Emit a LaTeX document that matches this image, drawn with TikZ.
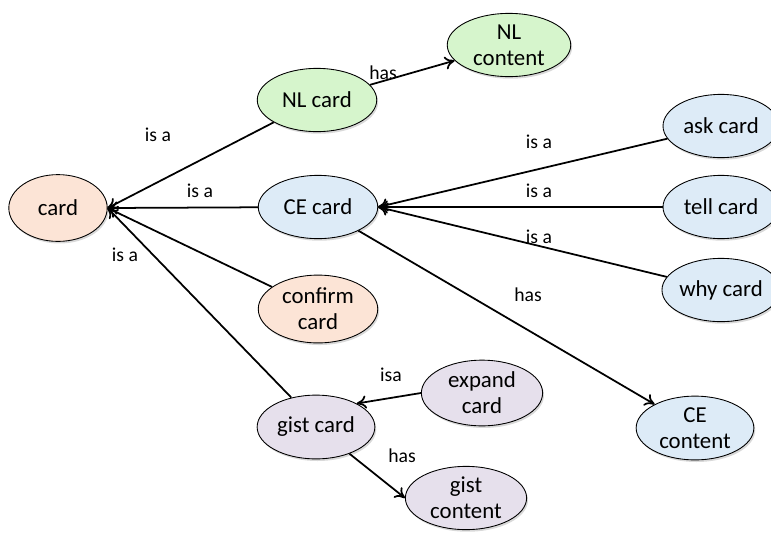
\documentclass[tikz,border=0pt]{standalone}
\usepackage{fontspec}
\setmainfont{Carlito}
\usetikzlibrary{shapes.geometric,arrows.meta,shadows}
\definecolor{peach}{HTML}{FCE4D6}
\definecolor{mint}{HTML}{D6F5CC}
\definecolor{sky}{HTML}{DDEBF7}
\definecolor{lilac}{HTML}{E6E0EC}
\tikzset{
  concept/.style={ellipse, draw, line width=0.5pt, inner sep=0pt, align=center,
    minimum width=68pt, minimum height=36pt,
    font=\fontsize{13}{14.7}\selectfont,
    drop shadow={opacity=0.3, shadow xshift=0.8pt, shadow yshift=-1.2pt}},
  rel/.style={font=\fontsize{11.2}{13}\selectfont, inner sep=1pt},
  link/.style={-{To[length=5.5pt,width=7.5pt]}, line width=1pt}
}
\begin{document}
\begin{tikzpicture}[x=0.02cm, y=-0.02cm]
\useasboundingbox (0,0) rectangle (771,538);
% concepts
\node[concept, fill=peach, minimum width=56pt, minimum height=38pt] (card) at (58,208) {card};
\node[concept, fill=mint] (nl) at (317,100) {NL card};
\node[concept, fill=mint, minimum width=70.3pt] (nlc) at (509,45) {NL\\content};
\node[concept, fill=sky] (ce) at (318,207) {CE card};
\node[concept, fill=sky, minimum width=66pt] (ask) at (721,126) {ask card};
\node[concept, fill=sky, minimum width=66pt] (tell) at (721,207) {tell card};
\node[concept, fill=sky, minimum width=66pt] (why) at (721,290) {why card};
\node[concept, fill=sky, minimum width=67pt, minimum height=36.3pt] (cec) at (695,428) {CE\\content};
\node[concept, fill=peach, minimum height=38.6pt] (conf) at (318,309) {confirm\\card};
\node[concept, fill=lilac, minimum width=67pt, minimum height=36.3pt] (gist) at (316,427) {gist card};
\node[concept, fill=lilac, minimum width=69pt, minimum height=37.4pt] (exp) at (482,393) {expand\\card};
\node[concept, fill=lilac, minimum width=69pt] (gc) at (466,498) {gist\\content};
% relations
\draw[link] (nl) -- (card.east);
\draw[link] (ce) -- (card.east);
\draw[link] (conf) -- (card.east);
\draw[link] (gist.130) -- (card.east);
\draw[link] (nl) -- (nlc);
\draw[link] (ask) -- (ce.east);
\draw[link] (tell) -- (ce.east);
\draw[link] (why) -- (ce.east);
\draw[link] (ce) -- (cec);
\draw[link] (exp.west) -- (gist.30);
\draw[link] (gist) -- (gc.west);
% labels
\node[rel] (l1) at (158,135) {is a};
\node[rel] (l2) at (200,191) {is a};
\node[rel] (l3) at (125,255) {is a};
\node[rel] (l4) at (383,73) {has};
\node[rel] (l5) at (539,142) {is a};
\node[rel] (l6) at (539,191) {is a};
\node[rel] (l7) at (539,237) {is a};
\node[rel] (l8) at (528,295) {has};
\node[rel] (l9) at (391,375) {isa};
\node[rel] (l10) at (402,456) {has};
\end{tikzpicture}
\end{document}
